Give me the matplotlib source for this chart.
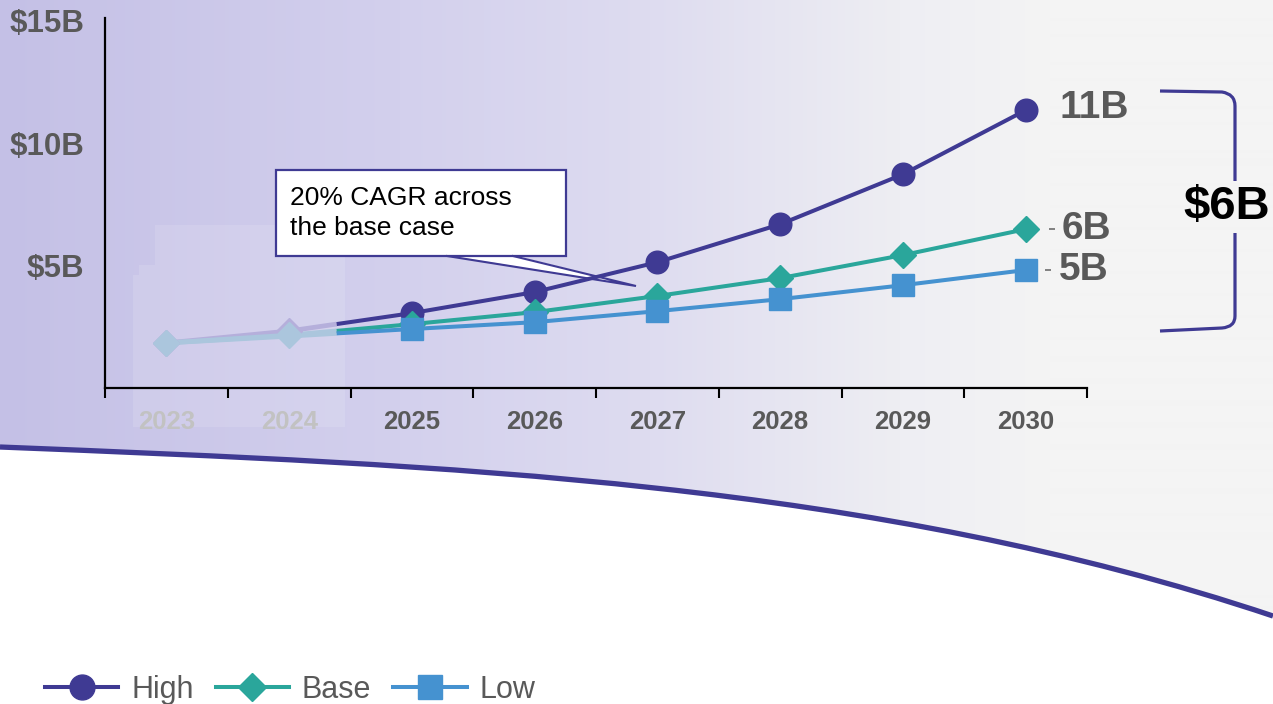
import numpy as np
import matplotlib
matplotlib.use('Agg')
from matplotlib import pyplot as plt, patches
from matplotlib.path import Path
from matplotlib.lines import Line2D
from matplotlib.transforms import offset_copy

plt.rcParams['font.family'] = ['Liberation Sans', 'DejaVu Sans']

years = ['2023', '2024', '2025', '2026', '2027', '2028', '2029', '2030']
high = [1.84, 2.33, 3.06, 3.92, 5.14, 6.69, 8.73, 11.35]
base = [1.84, 2.16, 2.61, 3.10, 3.76, 4.49, 5.43, 6.49]
low = [1.84, 2.12, 2.41, 2.69, 3.14, 3.63, 4.20, 4.82]
y_ticks = [5, 10, 15]
y_labels = [r'\$5B', r'\$10B', r'\$15B']
note = '20% CAGR across\nthe base case'

PURPLE = '#3f3a93'
TEAL = '#2aa69b'
BLUE = '#4592d0'
GREY = '#595959'
FADED_HIGH = '#b5afdb'
FADED_LOW = '#abc6dd'

W, H = 1273, 704
fig = plt.figure(figsize=(W / 100, H / 100), dpi=100)

# backdrop drawn in pixel coordinates
bg = fig.add_axes([0, 0, 1, 1], zorder=0)
stop_x = [0, 400, 650, 900, 1050, W]
stop_c = np.array([[196, 192, 230], [211, 208, 237], [222, 220, 240],
                   [238, 238, 243], [244, 244, 244], [244, 244, 244]]) / 255
xs = np.arange(W)
grad = np.stack([np.interp(xs, stop_x, stop_c[:, i]) for i in range(3)], axis=-1)[None]
bg.imshow(grad, extent=(0, W, H, 0), aspect='auto', interpolation='bilinear')
bg.set_xlim(0, W)
bg.set_ylim(H, 0)
bg.axis('off')

swoosh = [(0, 447), (450, 465), (873, 482), (W, 616)]
under = Path(swoosh + [(W, H), (0, H), (0, 447)],
             [Path.MOVETO, Path.CURVE4, Path.CURVE4, Path.CURVE4,
              Path.LINETO, Path.LINETO, Path.CLOSEPOLY])
bg.add_patch(patches.PathPatch(under, fc='white', ec='none'))
bg.add_patch(patches.PathPatch(Path(swoosh, [Path.MOVETO, Path.CURVE4, Path.CURVE4, Path.CURVE4]),
                               fc='none', ec=PURPLE, lw=3.8))

# lighter panel behind the historical years
bg.add_patch(patches.Polygon([(133, 427), (133, 275), (139, 275), (139, 265), (155, 265),
                              (155, 225), (345, 225), (345, 427)],
                             closed=True, fc='white', ec='none', alpha=0.12))

# callout
bg.add_patch(patches.Polygon([(447, 255), (636, 286), (513, 255)], fc='white', ec='none'))
bg.plot([447, 636, 513], [256, 286, 256], color=PURPLE, lw=1.5, solid_joinstyle='miter')
bg.add_patch(patches.Rectangle((276, 170), 290, 86, fc='white', ec=PURPLE, lw=1.6))
bg.text(290, 213, note, fontsize=19, ha='left', va='center', color='black', linespacing=1.32)

# spread bracket
top = Path([(1160, 91), (1222, 92), (1235, 94), (1235, 106), (1235, 181)],
           [Path.MOVETO, Path.LINETO, Path.CURVE3, Path.CURVE3, Path.LINETO])
bot = Path([(1235, 233), (1235, 316), (1235, 327), (1222, 328), (1160, 331)],
           [Path.MOVETO, Path.LINETO, Path.CURVE3, Path.CURVE3, Path.LINETO])
for p in (top, bot):
    bg.add_patch(patches.PathPatch(p, fc='none', ec=PURPLE, lw=2.3, capstyle='butt'))
spread = round(high[-1]) - round(low[-1])
bg.text(1227, 207, r'\$' + f'{spread}B', fontsize=34, fontweight='bold',
        ha='center', va='center', color='black')

# chart
ax = fig.add_axes([105 / W, 1 - 388 / H, (1087 - 105) / W, (388 - 18) / H], zorder=2)
ax.patch.set_visible(False)
idx = np.arange(len(years))
split = 1.387

series = [(high, PURPLE, 'o', 16.3, FADED_HIGH, 'High'),
          (base, TEAL, 'D', 13, FADED_LOW, 'Base'),
          (low, BLUE, 's', 15.6, FADED_LOW, 'Low')]

for vals, col, mk, ms, faded, name in series:
    cut = np.interp(split, idx, vals)
    ax.plot([0, 1, split], [vals[0], vals[1], cut], color=faded, lw=3.4,
            solid_capstyle='butt', zorder=2)
    ax.plot(np.r_[split, idx[2:]], np.r_[cut, vals[2:]], color=col, lw=2.9,
            solid_capstyle='butt', zorder=3)
    ax.plot(idx[2:], vals[2:], ls='none', marker=mk, ms=ms, color=col, mec=col, zorder=4)

ax.plot(idx[:2], high[:2], ls='none', marker='D', ms=13, color=FADED_HIGH, zorder=2.5)
ax.plot(idx[:2], base[:2], ls='none', marker='D', ms=13, color=FADED_LOW, zorder=2.6)

# end-of-line values
for vals, dx, dy, dash in [(high, 24.5, 1.5, None), (base, 26, 0, 26), (low, 24, 0, 22)]:
    ax.annotate(f'{vals[-1]:.0f}B', (idx[-1], vals[-1]), xytext=(dx, dy),
                textcoords='offset points', fontsize=28, fontweight='bold',
                color=GREY, ha='left', va='center')
    if dash:
        tr = offset_copy(ax.transData, fig=fig, x=dash, y=0, units='dots')
        ax.plot(idx[-1], vals[-1], marker='_', ms=4, mew=1.3, color='#777777',
                transform=tr, clip_on=False)

ax.set_xlim(-0.5, len(years) - 0.5)
ax.set_ylim(0, 15.12)
ax.set_xticks(idx, years, fontsize=18.5, fontweight='bold', color=GREY)
ax.set_xticks(np.arange(-0.5, len(years)), minor=True)
ax.tick_params(axis='x', which='major', length=0, pad=16)
ax.tick_params(axis='x', which='minor', length=7, width=1.5, direction='out', color='black')
for lab in ax.get_xticklabels()[:2]:
    lab.set_color('#c2c2c2')
ax.set_yticks(y_ticks, y_labels, fontsize=22.5, fontweight='bold', color=GREY)
ax.tick_params(axis='y', length=0, pad=15)
for s in ('top', 'right'):
    ax.spines[s].set_visible(False)
for s in ('left', 'bottom'):
    ax.spines[s].set_linewidth(1.6)
    ax.spines[s].set_color('black')

handles = [Line2D([], [], color=c, marker=m, ms=ms * 1.1, lw=2.9, label=n)
           for _, c, m, ms, _, n in series]
leg = fig.legend(handles=handles, loc='center left', bbox_to_anchor=(45 / W, 1 - 690 / H),
                 ncol=3, frameon=False, fontsize=22, borderpad=0, borderaxespad=0,
                 handlelength=2.4, handletextpad=0.42, columnspacing=0.72)
for t in leg.get_texts():
    t.set_color(GREY)

fig.savefig('out.png', dpi=100)
